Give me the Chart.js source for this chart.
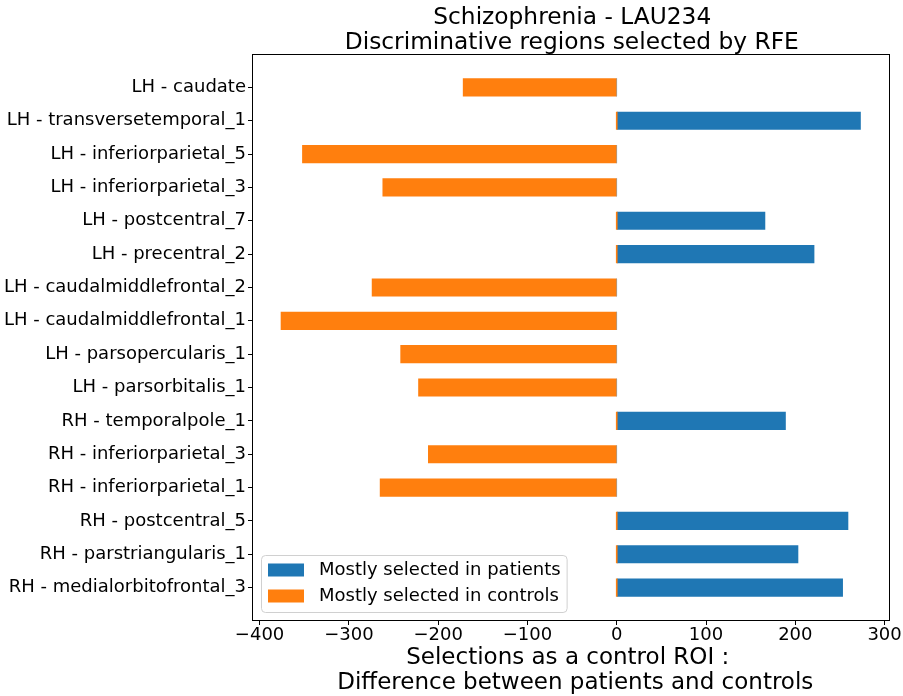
<!DOCTYPE html>
<html>
<head>
<meta charset="utf-8">
<script src="https://cdn.jsdelivr.net/npm/chart.js@4.4.1/dist/chart.umd.min.js"></script>
<style>
  html, body { margin: 0; padding: 0; background: #fff; }
  #wrap { width: 903px; height: 696px; }
</style>
</head>
<body>
<div id="wrap"><canvas id="c" width="903" height="696"></canvas></div>
<script>
// Regions of interest, top to bottom
const categories = [
  'LH - caudate',
  'LH - transversetemporal_1',
  'LH - inferiorparietal_5',
  'LH - inferiorparietal_3',
  'LH - postcentral_7',
  'LH - precentral_2',
  'LH - caudalmiddlefrontal_2',
  'LH - caudalmiddlefrontal_1',
  'LH - parsopercularis_1',
  'LH - parsorbitalis_1',
  'RH - temporalpole_1',
  'RH - inferiorparietal_3',
  'RH - inferiorparietal_1',
  'RH - postcentral_5',
  'RH - parstriangularis_1',
  'RH - medialorbitofrontal_3'
];

// Difference in selection counts (patients - controls); 0 where the other group dominates
const patientsValues = [0, 273, 0, 0, 166, 221, 0, 0, 0, 0, 189, 0, 0, 259, 203, 253];
const controlsValues = [-172, 0, -352, -262, 0, 0, -274, -376, -242, -222, 0, -211, -265, 0, 0, 0];

const xTickValues = [-400, -300, -200, -100, 0, 100, 200, 300];
const seriesLabels = ['Mostly selected in patients', 'Mostly selected in controls'];

const titleLines = ['Schizophrenia - LAU234', 'Discriminative regions selected by RFE'];
const xTitleLines = ['Selections as a control ROI :', 'Difference between patients and controls'];

const FONT = '"DejaVu Sans", "Liberation Sans", sans-serif';
const BLUE = '#1f77b4';
const ORANGE = '#ff7f0e';

function toPoints(values) {
  return values.map((v, i) => ({ x: v, y: i }));
}

// Frame, titles and an in-plot legend
const decorations = {
  id: 'decorations',
  afterDatasetsDraw(chart) {
    const { ctx, chartArea: a } = chart;
    ctx.save();
    // axes frame
    ctx.strokeStyle = '#000';
    ctx.lineWidth = 1;
    ctx.strokeRect(Math.round(a.left) + 0.5, Math.round(a.top) + 0.5,
                   Math.round(a.right - a.left) - 1, Math.round(a.bottom - a.top) - 1);

    // legend box
    ctx.font = '18px ' + FONT;
    const texts = chart.data.datasets.map(d => d.label);
    const tw = Math.max(...texts.map(t => ctx.measureText(t).width));
    const bx = a.left + 9, by = a.bottom - 66;
    const bw = 58 + tw + 6, bh = 57;
    ctx.beginPath();
    ctx.roundRect(bx + 0.5, by + 0.5, bw, bh, 4);
    ctx.fillStyle = 'rgba(255,255,255,0.8)';
    ctx.fill();
    ctx.strokeStyle = '#d0d0d0';
    ctx.stroke();
    chart.data.datasets.forEach((d, i) => {
      const cy = by + 15 + i * 26;
      ctx.fillStyle = d.backgroundColor;
      ctx.fillRect(bx + 7, cy - 6.5, 36, 13);
      ctx.fillStyle = '#000';
      ctx.textAlign = 'left';
      ctx.textBaseline = 'middle';
      ctx.fillText(d.label, bx + 58, cy);
    });

    // titles
    const cx = (a.left + a.right) / 2;
    ctx.fillStyle = '#000';
    ctx.textAlign = 'center';
    ctx.textBaseline = 'alphabetic';
    ctx.font = '23.3px ' + FONT;
    ctx.fillText(titleLines[0], cx + 1.5, 23.5);
    ctx.fillText(titleLines[1], cx + 1, 49);
    ctx.font = '23px ' + FONT;
    ctx.fillText(xTitleLines[0], cx - 3, 664);
    ctx.fillText(xTitleLines[1], cx + 4.5, 689);
    ctx.restore();
  }
};

new Chart(document.getElementById('c'), {
  type: 'bar',
  data: {
    datasets: [
      { label: seriesLabels[0], data: toPoints(patientsValues), backgroundColor: BLUE, order: 1 },
      { label: seriesLabels[1], data: toPoints(controlsValues), backgroundColor: ORANGE, order: 0, minBarLength: 1 }
    ]
  },
  options: {
    responsive: false,
    animation: false,
    devicePixelRatio: 1,
    indexAxis: 'y',
    layout: { padding: { top: 54, right: 13.5, left: 0, bottom: 0 } },
    datasets: { bar: { grouped: false, barThickness: 17.5, borderWidth: 0 } },
    plugins: { legend: { display: false }, title: { display: false }, tooltip: { enabled: false } },
    scales: {
      x: {
        type: 'linear',
        min: -408.5,
        max: 305.5,
        offset: false,
        afterBuildTicks(s) { s.ticks = xTickValues.map(v => ({ value: v })); },
        afterFit(s) { s.height = 75; },
        grid: { offset: false, drawOnChartArea: false, drawTicks: true, tickLength: 4, color: '#000', lineWidth: 1 },
        border: { display: false },
        ticks: {
          color: '#000',
          font: { family: FONT, size: 18 },
          padding: 0,
          maxRotation: 0,
          autoSkip: false,
          callback: v => (v < 0 ? '\u2212' + Math.abs(v) : String(v))
        }
      },
      y: {
        type: 'linear',
        reverse: true,
        offset: false,
        min: -1,
        max: categories.length,
        afterBuildTicks(s) { s.ticks = categories.map((_, i) => ({ value: i })); },
        afterFit(s) { s.width = 252; },
        grid: { offset: false, drawOnChartArea: false, drawTicks: true, tickLength: 4, color: '#000', lineWidth: 1 },
        border: { display: false },
        ticks: {
          color: '#000',
          font: { family: FONT, size: 18 },
          padding: 2,
          autoSkip: false,
          callback: v => categories[v]
        }
      }
    }
  },
  plugins: [decorations]
});
</script>
</body>
</html>
